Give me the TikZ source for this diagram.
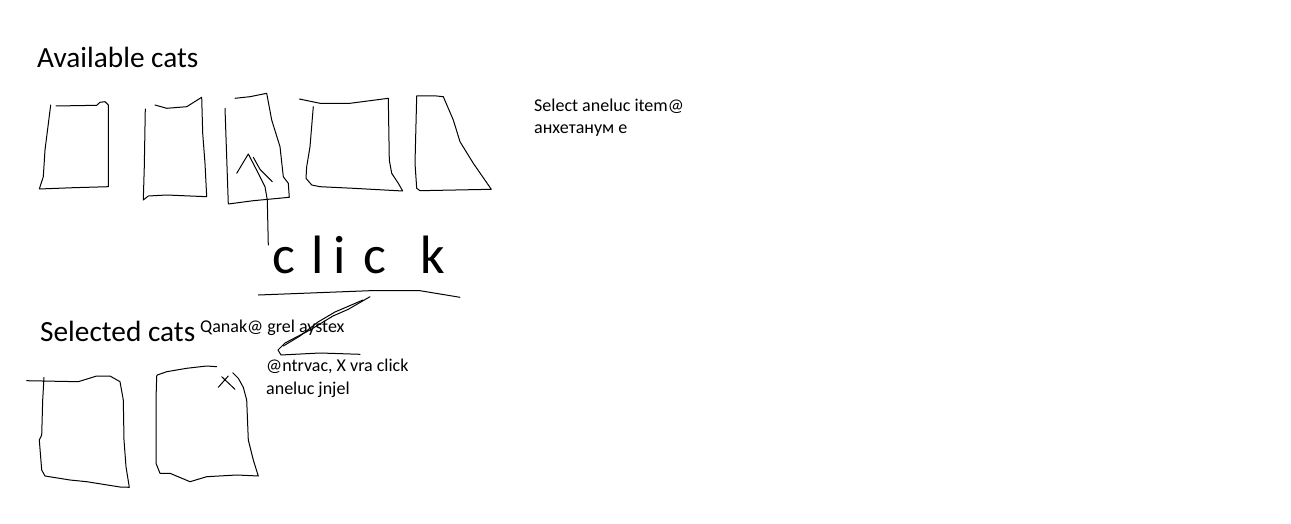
\documentclass[tikz,border=0pt]{standalone}
\usepackage{fontspec}
\setmainfont{Carlito}
\usetikzlibrary{positioning}

\begin{document}
\begin{tikzpicture}[
          x=1pt, y=-1pt,
          pen/.style={draw=black, line width=1pt, line join=round, line cap=round},
          heading/.style={anchor=base west, inner sep=0pt, font=\fontsize{29.3}{34}\selectfont},
          note/.style={anchor=base west, inner sep=0pt, align=left,
                       font=\fontsize{18}{22.5}\selectfont},
          scrawl/.style={anchor=base west, inner sep=0pt, font=\fontsize{54}{60}\selectfont}
        ]
        \useasboundingbox (0,0) rectangle (1291,524);
        % titles and notes (base = last line)
        \node[heading] (avail) at (37,68) {Available cats};
        \node[heading] (sel) at (40,341) {Selected cats};
        \node[note] (hint) at (534,134) {Select aneluc item@\\анхетанум е};
        \node[note] (name) at (200,332) {Qanak@ grel aystex};
        \node[note] (remove) at (266,394) {@ntrvac, X vra click\\aneluc jnjel};
        \node[scrawl] (click) at (272,273) {c\kern16pt l\kern10pt i\kern18pt c\kern34pt k};
        % available cats
        \draw[pen] (56,106) -- (96.7,105.3) -- (100,102.3) -- (105,101.7) -- (108.3,105)
          -- (108.3,186.7) -- (73.3,187.7) -- (39.3,189) -- (43.3,176.7) -- (45,150) -- (50.7,105);
        \draw[pen] (155,105) -- (166.7,108.3) -- (186.7,106.7) -- (201.7,97.3) -- (202.7,133.3)
          -- (205,163.3) -- (206.7,196.7) -- (166.7,195) -- (148.3,196) -- (143.3,200)
          -- (144.3,166.7) -- (145.3,109);
        \draw[pen] (235,98.3) -- (250,96.7) -- (266.7,93.3) -- (271.7,120) -- (280,146.7)
          -- (283.3,176.7) -- (288.3,183.3) -- (289.3,197.3) -- (253.3,200.7) -- (228.3,204)
          -- (225,108.3);
        \draw[pen] (299.3,99) -- (320,103.3) -- (350,103.3) -- (370,100.7) -- (388.3,98.3)
          -- (389.3,160) -- (391.7,173.3) -- (398.3,183.3) -- (402.7,191) -- (353.3,188.3)
          -- (320,186.7) -- (311.7,185) -- (306,178.3) -- (306.7,166.7) -- (310,146.7) -- (313.3,106.7);
        \draw[pen] (416.7,96) -- (436.7,96) -- (443.3,96.7) -- (453.3,120) -- (460,141.7)
          -- (473.3,163.3) -- (491.3,189.3) -- (420,190.7) -- (416.7,188.3) -- (415,163.3) -- cycle;
        % arrow from the click
        \draw[pen] (268.3,245) -- (267.3,200) -- (265,186.7) -- (258.3,173.3) -- (248.3,154)
          -- (236.7,173.3);
        \draw[pen] (253.3,157.3) -- (260,169.3) -- (272.3,181.7);
        \draw[pen] (258.3,295) -- (370,290.7) -- (420,290.7) -- (460,297.3);
        \draw[pen] (370,296.7) -- (348.3,309.3) -- (333,316) -- (310,330) -- (285,343)
          -- (278,350) -- (281,355) -- (320,353) -- (360,354.3);
        \draw[pen] (283.3,346) -- (300,336) -- (318,322) -- (335,312) -- (363,300);
        % selected cats
        \draw[pen] (26.7,380.7) -- (78.3,381.7) -- (96.7,376) -- (110,376) -- (120,381.7)
          -- (123.3,400) -- (124,440) -- (126,466.7) -- (129.3,487.3) -- (120,487)
          -- (86.7,481.7) -- (70,480) -- (45,476) -- (41.7,470) -- (39.3,440) -- (41.7,435)
          -- (42.7,400) -- (44,377.3);
        \draw[pen] (216.7,366.7) -- (206.7,366) -- (186.7,368.3) -- (166.7,371.7) -- (157.3,375)
          -- (156.7,376) -- (156,400) -- (156,463.3) -- (160,473.3) -- (170,473.3)
          -- (190,481.7) -- (206.7,476.7) -- (236.7,475) -- (258.3,476) -- (253.3,460)
          -- (248.3,440) -- (246.7,400) -- (243.3,387.3) -- (238.3,378.3) -- (232.7,372.7);
        \draw[pen] (221.7,376.7) -- (235,389.3);
        \draw[pen] (228.3,376) -- (218.3,387.3);
      \end{tikzpicture}
\end{document}
